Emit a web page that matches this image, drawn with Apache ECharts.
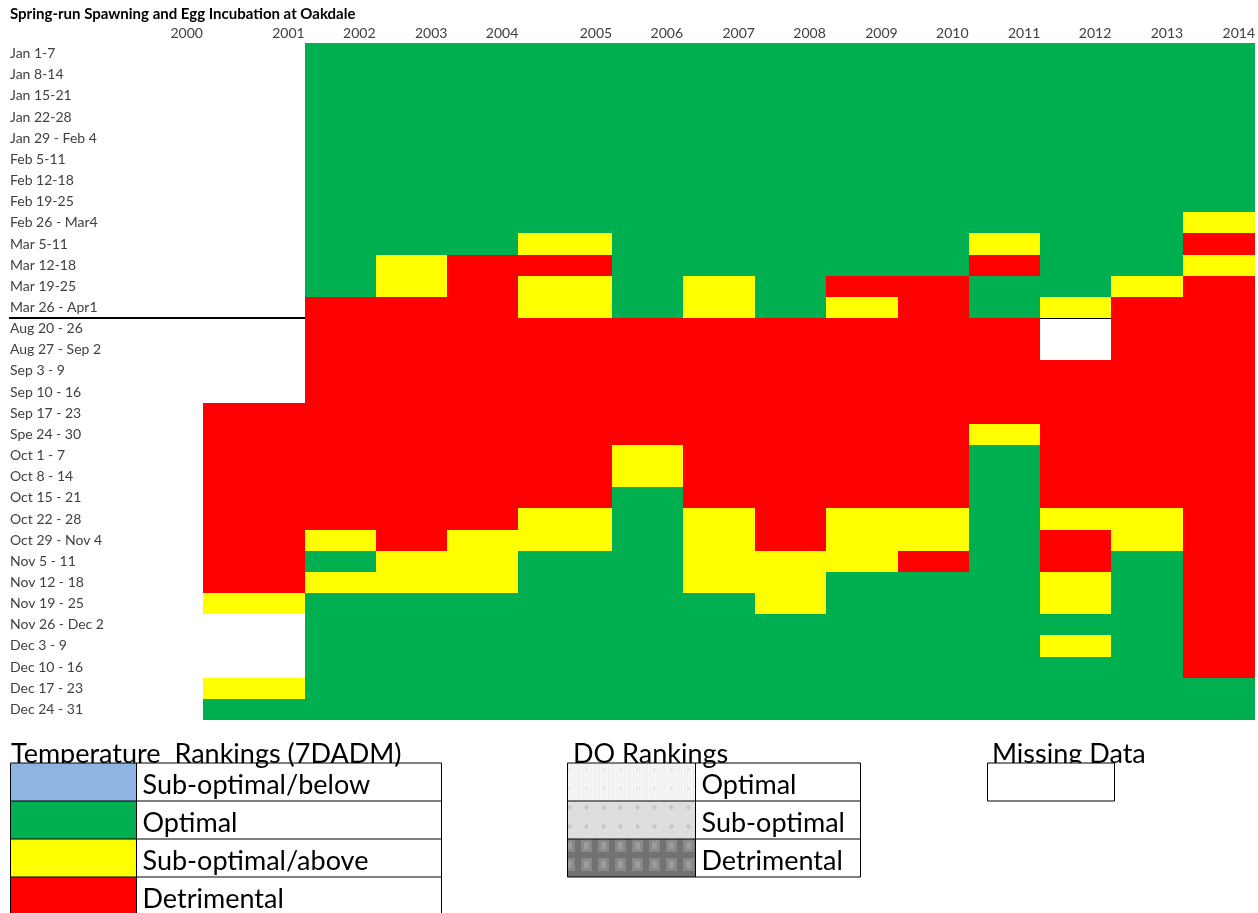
<!DOCTYPE html>
<html>
<head>
<meta charset="utf-8">
<title>Spring-run Spawning and Egg Incubation at Oakdale</title>
<script src="https://cdn.jsdelivr.net/npm/echarts@6/dist/echarts.min.js"></script>
<style>
    html, body { margin: 0; padding: 0; background: #fff; }
    #main { width: 1258px; height: 913px; }
</style>
</head>
<body>
<div id="main"></div>
<script>
// 列：年份
const years = ['2000', '2001', '2002', '2003', '2004', '2005', '2006', '2007',
    '2008', '2009', '2010', '2011', '2012', '2013', '2014'];

// 行：周
const springWeeks = ['Jan 1-7', 'Jan 8-14', 'Jan 15-21', 'Jan 22-28', 'Jan 29 - Feb 4',
    'Feb 5-11', 'Feb 12-18', 'Feb 19-25', 'Feb 26 - Mar4', 'Mar 5-11', 'Mar 12-18',
    'Mar 19-25', 'Mar 26 - Apr1'];
const fallWeeks = ['Aug 20 - 26', 'Aug 27 - Sep 2', 'Sep 3 - 9', 'Sep 10 - 16', 'Sep 17 - 23',
    'Spe 24 - 30', 'Oct 1 - 7', 'Oct 8 - 14', 'Oct 15 - 21', 'Oct 22 - 28', 'Oct 29 - Nov 4',
    'Nov 5 - 11', 'Nov 12 - 18', 'Nov 19 - 25', 'Nov 26 - Dec 2', 'Dec 3 - 9', 'Dec 10 - 16',
    'Dec 17 - 23', 'Dec 24 - 31'];

// 等级代码: - 缺失, B 偏低, G 最佳, Y 偏高, R 有害
const rankCodes = ['-', 'B', 'G', 'Y', 'R'];

// 每年一个字符串，一个字符一周（春季13周）
const springRanks = [
    '-------------', // 2000
    '-------------', // 2001
    'GGGGGGGGGGGGR', // 2002
    'GGGGGGGGGGYYR', // 2003
    'GGGGGGGGGGRRR', // 2004
    'GGGGGGGGGYRYY', // 2005
    'GGGGGGGGGGGGG', // 2006
    'GGGGGGGGGGGYY', // 2007
    'GGGGGGGGGGGGG', // 2008
    'GGGGGGGGGGGRY', // 2009
    'GGGGGGGGGGGRR', // 2010
    'GGGGGGGGGYRGG', // 2011
    'GGGGGGGGGGGGY', // 2012
    'GGGGGGGGGGGYR', // 2013
    'GGGGGGGGYRYRR'  // 2014
];
// 秋季19周
const fallRanks = [
    '-------------------', // 2000
    '----RRRRRRRRRY---YG', // 2001
    'RRRRRRRRRRYGYGGGGGG', // 2002
    'RRRRRRRRRRRYYGGGGGG', // 2003
    'RRRRRRRRRRYYYGGGGGG', // 2004
    'RRRRRRRRRYYGGGGGGGG', // 2005
    'RRRRRRYYGGGGGGGGGGG', // 2006
    'RRRRRRRRRYYYYGGGGGG', // 2007
    'RRRRRRRRRRRYYYGGGGG', // 2008
    'RRRRRRRRRYYYGGGGGGG', // 2009
    'RRRRRRRRRYYRGGGGGGG', // 2010
    'RRRRRYGGGGGGGGGGGGG', // 2011
    '--RRRRRRRYRRYYGYGGG', // 2012
    'RRRRRRRRRYYGGGGGGGG', // 2013
    'RRRRRRRRRRRRRRRRRGG'  // 2014
];

// 图例文字
const tempLegend = ['Sub-optimal/below', 'Optimal', 'Sub-optimal/above', 'Detrimental'];
const doLegend = ['Optimal', 'Sub-optimal', 'Detrimental'];

(function () {
    let myChart = echarts.init(document.getElementById('main'));

    const weeks = springWeeks.concat(fallWeeks);
    const rankColors = ['#ffffff', '#8db4e2', '#00b050', '#ffff00', '#ff0000'];
    const font = 'Lato, "Noto Sans", sans-serif';

    // 列宽（Excel 里每列宽度不一样）
    const colWidths = [73, 102, 71, 72, 71, 94, 71, 72, 71, 72, 71, 72, 71, 72, 72];
    const edges = [0];
    colWidths.forEach(w => edges.push(edges[edges.length - 1] + w));

    // 把字符串拆成格子 [列, 行, 代码]
    let cells = [];
    years.forEach((y, i) => {
        let s = springRanks[i] + fallRanks[i];
        for (let j = 0; j < weeks.length; j++) {
            let code = rankCodes.indexOf(s[j]);
            if (code > 0) cells.push([i, j, code]);
        }
    });

    let option = {
        animation: false,
        title: {
            text: 'Spring-run Spawning and Egg Incubation at Oakdale',
            left: 5,
            top: 2,
            textStyle: { fontFamily: font, fontSize: 15, fontWeight: 'bold', color: '#000' }
        },
        grid: { left: 130, right: 1, top: 43, bottom: 193 },
        xAxis: {
            type: 'value',
            position: 'top',
            min: 0,
            max: edges[edges.length - 1],
            axisLine: { show: false },
            axisTick: { show: false },
            splitLine: { show: false },
            axisLabel: {
                // 年份右对齐到每列右边
                customValues: edges.slice(1),
                formatter: v => years[edges.indexOf(v) - 1],
                align: 'right',
                margin: 3,
                fontFamily: font,
                fontSize: 14,
                color: '#404040'
            }
        },
        yAxis: {
            type: 'category',
            data: weeks,
            inverse: true,
            axisLine: { show: false },
            axisTick: { show: false },
            axisLabel: {
                align: 'left',
                margin: 120,
                fontFamily: font,
                fontSize: 14,
                color: '#404040'
            }
        },
        series: [{
            type: 'custom',
            data: cells,
            renderItem: function (params, api) {
                let col = api.value(0), row = api.value(1);
                let p0 = api.coord([edges[col], row]);
                let p1 = api.coord([edges[col + 1], row]);
                let h = api.size([0, 1])[1];
                let x0 = Math.round(p0[0]), x1 = Math.round(p1[0]);
                let y0 = Math.round(p0[1] - h / 2), y1 = Math.round(p0[1] + h / 2);
                return {
                    type: 'rect',
                    shape: { x: x0, y: y0, width: x1 - x0, height: y1 - y0 },
                    style: { fill: rankColors[api.value(2)] }
                };
            }
        }]
    };
    myChart.setOption(option);

    // 图案填充（溶解氧图例）
    function makePattern(w, h, draw) {
        let c = document.createElement('canvas');
        c.width = w;
        c.height = h;
        draw(c.getContext('2d'), w, h);
        return { image: c, repeat: 'repeat' };
    }
    const doPatterns = [
        makePattern(17, 19, (ctx, w, h) => {
            ctx.fillStyle = '#f6f6f6';
            ctx.fillRect(0, 0, w, h);
            ctx.fillStyle = '#eeeeee';
            for (let x = 1; x < w; x += 3) ctx.fillRect(x, 0, 1, h);
            ctx.fillStyle = '#e2e2e2';
            ctx.fillRect(7, 9, 3, 1);
            ctx.fillRect(8, 8, 1, 3);
        }),
        makePattern(17, 19, (ctx, w, h) => {
            ctx.fillStyle = '#dedede';
            ctx.fillRect(0, 0, w, h);
            ctx.fillStyle = '#c6c6c6';
            ctx.beginPath();
            ctx.moveTo(8.5, 6.5); ctx.lineTo(11, 9.5); ctx.lineTo(8.5, 12.5); ctx.lineTo(6, 9.5);
            ctx.closePath();
            ctx.fill();
        }),
        makePattern(17, 19, (ctx, w, h) => {
            ctx.fillStyle = '#727272';
            ctx.fillRect(0, 0, w, h);
            ctx.fillStyle = '#898989';
            ctx.fillRect(3, 3, 11, 13);
            ctx.fillStyle = '#9c9c9c';
            ctx.fillRect(6, 6, 5, 7);
        })
    ];

    // 春秋分隔线
    let ySep = Math.round((myChart.convertToPixel({ yAxisIndex: 0 }, weeks[springWeeks.length - 1]) +
        myChart.convertToPixel({ yAxisIndex: 0 }, weeks[springWeeks.length])) / 2);
    let xEnd = myChart.convertToPixel({ xAxisIndex: 0 }, edges[edges.length - 1]);

    let graphics = [{
        type: 'line',
        shape: { x1: 9, y1: ySep, x2: xEnd, y2: ySep },
        style: { stroke: '#000', lineWidth: 2 }
    }];

    const legendFont = '27px ' + font;
    const rowH = 38;
    const tableTop = 763;

    function addText(text, x, y) {
        graphics.push({
            type: 'text',
            style: { text: text, x: x, y: y, font: legendFont, fill: '#000', verticalAlign: 'middle' }
        });
    }
    function addTable(x, swatchW, totalW, fills, labels, extendBottom) {
        fills.forEach((f, i) => {
            graphics.push({
                type: 'rect',
                shape: { x: x, y: tableTop + i * rowH, width: swatchW, height: rowH },
                style: { fill: f }
            });
            addText(labels[i], x + swatchW + 6, tableTop + i * rowH + rowH / 2 + 3);
        });
        let h = fills.length * rowH + (extendBottom ? 10 : 0);
        graphics.push({
            type: 'rect',
            shape: { x: x, y: tableTop, width: totalW, height: h },
            style: { fill: 'none', stroke: '#000', lineWidth: 1 }
        });
        for (let i = 1; i < fills.length; i++) {
            graphics.push({
                type: 'line',
                shape: { x1: x, y1: tableTop + i * rowH, x2: x + totalW, y2: tableTop + i * rowH },
                style: { stroke: '#000', lineWidth: 1 }
            });
        }
        graphics.push({
            type: 'line',
            shape: { x1: x + swatchW, y1: tableTop, x2: x + swatchW, y2: tableTop + h },
            style: { stroke: '#000', lineWidth: 1 }
        });
    }

    // 温度等级
    addText('Temperature  Rankings (7DADM)', 11, 754);
    addTable(10.5, 126, 431, rankColors.slice(1), tempLegend, true);

    // 溶解氧等级
    addText('DO Rankings', 573, 754);
    addTable(567.5, 128, 293, doPatterns, doLegend, false);

    // 缺失数据
    addText('Missing Data', 992, 754);
    graphics.push({
        type: 'rect',
        shape: { x: 987.5, y: tableTop, width: 127, height: rowH },
        style: { fill: '#fff', stroke: '#000', lineWidth: 1 }
    });

    myChart.setOption({ graphic: graphics });

    window.addEventListener('resize', function () {
        myChart.resize();
    });
})();
</script>
</body>
</html>
